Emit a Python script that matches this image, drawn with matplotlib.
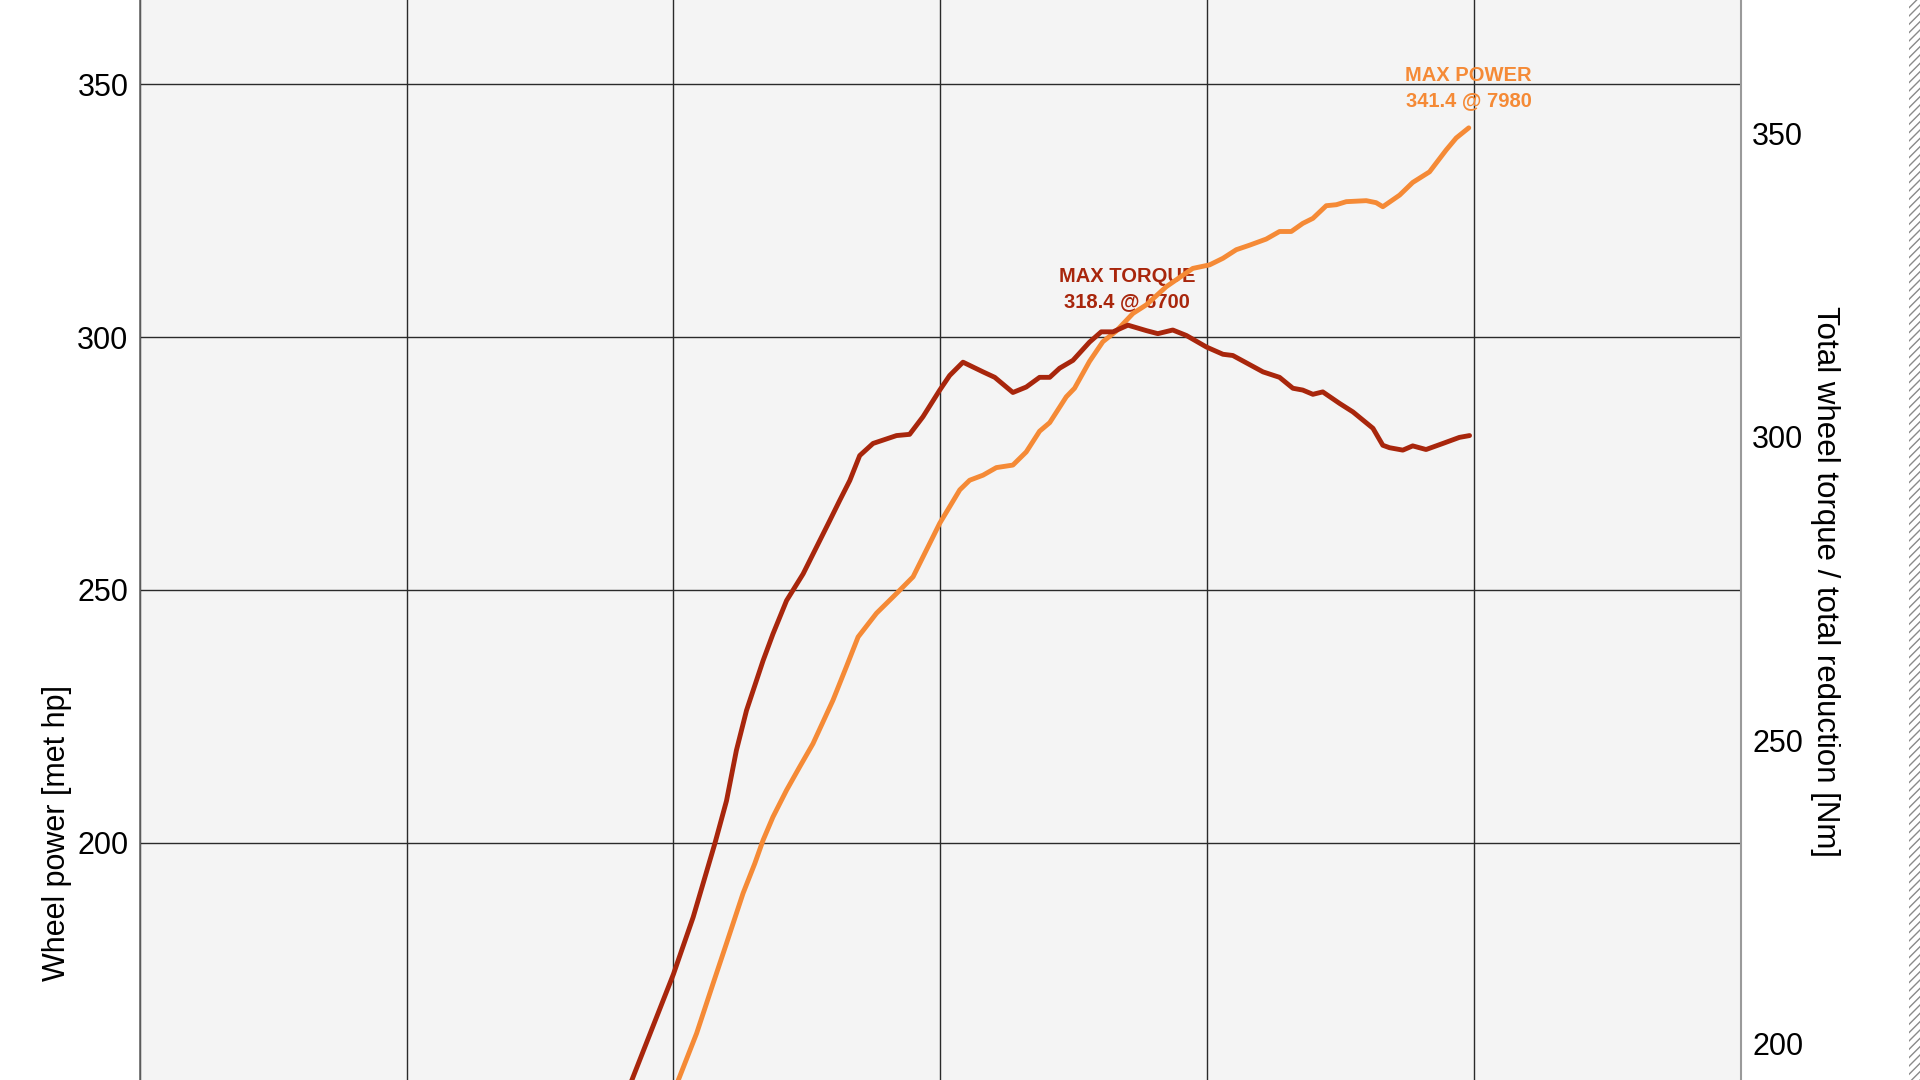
import matplotlib
matplotlib.use("Agg")
import matplotlib.pyplot as plt
from matplotlib import font_manager
from matplotlib.patches import Rectangle

# ---- data ----
torque_rpm = [4843, 5000, 5074, 5155, 5199, 5236, 5274, 5336, 5373, 5424, 5486, 5536,
              5586, 5623, 5661, 5698, 5748, 5836, 5885, 5935, 5998, 6035, 6085, 6160,
              6204, 6272, 6322, 6372, 6410, 6447, 6497, 6559, 6603, 6647, 6703, 6772,
              6815, 6871, 6922, 6997, 7059, 7096, 7209, 7271, 7321, 7358, 7396, 7433,
              7496, 7546, 7621, 7658, 7683, 7733, 7770, 7820, 7883, 7945, 7983]
torque_nm = [193.8, 211.4, 220.8, 232.9, 240.0, 248.3, 254.9, 263.1, 267.5, 273.0, 277.4, 281.8,
             286.2, 289.5, 292.8, 296.9, 298.9, 300.2, 300.4, 303.3, 307.7, 310.1, 312.3, 310.7,
             309.8, 307.3, 308.2, 309.8, 309.8, 311.3, 312.6, 315.6, 317.3, 317.3, 318.4, 317.5,
             317.0, 317.6, 316.7, 314.8, 313.6, 313.4, 310.7, 309.8, 308.0, 307.7, 307.0, 307.4,
             305.5, 304.1, 301.4, 298.6, 298.2, 297.8, 298.5, 297.9, 298.9, 299.9, 300.2]

power_rpm = [5018, 5087, 5149, 5199, 5261, 5305, 5336, 5373, 5424, 5473, 5523, 5598,
             5648, 5692, 5761, 5836, 5898, 5948, 5998, 6073, 6110, 6160, 6210, 6272,
             6322, 6372, 6410, 6472, 6503, 6559, 6609, 6659, 6722, 6772, 6847, 6946,
             7009, 7059, 7109, 7159, 7221, 7271, 7315, 7358, 7396, 7446, 7484, 7521,
             7596, 7633, 7658, 7721, 7770, 7833, 7895, 7933, 7980]
power_hp = [153.0, 162.3, 172.2, 180.1, 190.0, 195.9, 200.5, 205.1, 210.4, 215.0, 219.6, 228.2,
            234.8, 240.7, 245.4, 249.3, 252.6, 257.9, 263.2, 269.8, 271.7, 272.7, 274.2, 274.7,
            277.3, 281.4, 283.1, 288.2, 289.9, 295.2, 299.1, 301.2, 304.7, 306.4, 310.0, 313.6,
            314.3, 315.6, 317.3, 318.2, 319.4, 320.9, 320.9, 322.5, 323.5, 326.0, 326.2, 326.8,
            327.0, 326.6, 325.8, 328.1, 330.6, 332.7, 337.0, 339.4, 341.4]

x_grid = [3000, 4000, 5000, 6000, 7000, 8000, 9000]
power_ticks = [200, 250, 300, 350]
torque_ticks = [200, 250, 300, 350]

max_power_label = "MAX POWER\n341.4 @ 7980"
max_torque_label = "MAX TORQUE\n318.4 @ 6700"
left_label = "Wheel power [met hp]"
right_label = "Total wheel torque / total reduction [Nm]"

# ---- style ----
names = {f.name for f in font_manager.fontManager.ttflist}
base_font = "Liberation Sans" if "Liberation Sans" in names else "DejaVu Sans"
narrow_font = "Liberation Sans Narrow" if "Liberation Sans Narrow" in names else base_font
plt.rcParams["font.family"] = [base_font, "DejaVu Sans"]

TORQUE_C = "#a8260c"
POWER_C = "#f58a36"

fig = plt.figure(figsize=(19.2, 10.8), dpi=100)
fig.patch.set_facecolor("white")

left = 139.6 / 1920
width = (1741 - 139.6) / 1920
ax = fig.add_axes([left, 0.0, width, 1.0])
ax.set_facecolor("#f4f4f4")
ax.set_xlim(3000, 9000)
ax.set_ylim(153.07, 366.69)
ax.set_xticks(x_grid)
ax.set_xticklabels([])
ax.set_yticks(power_ticks)
ax.tick_params(axis="x", length=0)
ax.tick_params(axis="y", length=0, pad=8, labelsize=22)
ax.grid(True, color="#2a2a2a", linewidth=1.0)
ax.set_axisbelow(True)
for s in ("top", "bottom", "right"):
    ax.spines[s].set_visible(False)
ax.spines["left"].set_color("#666666")
ax.spines["left"].set_linewidth(1.2)

ax2 = ax.twinx()
ax2.set_ylim(193.97, 372.0)
ax2.set_yticks(torque_ticks)
ax2.tick_params(axis="y", length=0, pad=8, labelsize=22)
for s in ("top", "bottom", "left"):
    ax2.spines[s].set_visible(False)
ax2.spines["right"].set_color("#9a9a9a")
ax2.spines["right"].set_linewidth(1.5)

ax.plot(power_rpm, power_hp, color=POWER_C, linewidth=3.5, solid_capstyle="round",
        solid_joinstyle="round", zorder=3)
ax2.plot(torque_rpm, torque_nm, color=TORQUE_C, linewidth=3.5, solid_capstyle="round",
         solid_joinstyle="round", zorder=3)

ax.text(7980, 349.3, max_power_label, color=POWER_C, fontsize=14.5, fontweight="bold",
        ha="center", va="center", linespacing=1.4, zorder=1)
ax.text(6700, 324.4, max_torque_label, color=TORQUE_C, fontsize=14.5, fontweight="bold",
        ha="center", va="center", linespacing=1.4, zorder=1, transform=ax2.transData)

fig.text(57 / 1920, 1 - 833 / 1080, left_label, rotation=90, fontsize=22,
         ha="center", va="center")
fig.text(1825 / 1920, 1 - 582 / 1080, right_label, rotation=270, fontsize=22.5,
         ha="center", va="center", family=[narrow_font, "DejaVu Sans"])

# hatched strip at the right edge
fig.patches.append(Rectangle((1909 / 1920, 0), 11 / 1920, 1, transform=fig.transFigure,
                             facecolor="white", edgecolor="#8a8a8a", hatch="////",
                             linewidth=0, figure=fig))

fig.savefig("out.png", dpi=100)
